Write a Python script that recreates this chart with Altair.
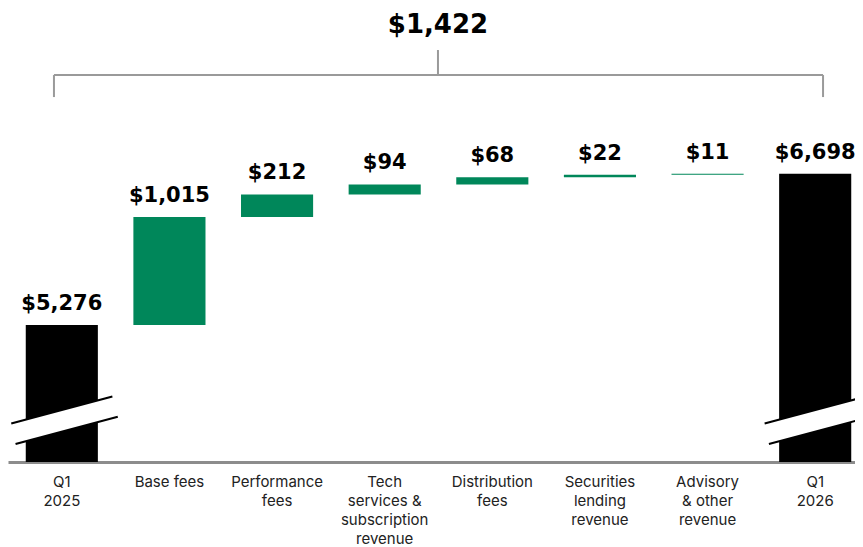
import altair as alt
import pandas as pd

# ---- data ----
categories = [
    "Q1|2025",
    "Base fees",
    "Performance|fees",
    "Tech|services &|subscription|revenue",
    "Distribution|fees",
    "Securities|lending|revenue",
    "Advisory|& other|revenue",
    "Q1|2026",
]
start_value = 5276
deltas = [1015, 212, 94, 68, 22, 11]
end_value = 6698

# ---- scale setup (broken axis) ----
Y_MIN, Y_MAX = 3988, 8255
W, H = 861, 454
GREEN = "#00875a"

rows = []
rows.append({"cat": categories[0], "lo": Y_MIN, "hi": start_value, "kind": "total", "val": start_value})
run = start_value
for c, d in zip(categories[1:-1], deltas):
    rows.append({"cat": c, "lo": run, "hi": run + d, "kind": "delta", "val": d})
    run += d
rows.append({"cat": categories[-1], "lo": Y_MIN, "hi": end_value, "kind": "total", "val": end_value})
df = pd.DataFrame(rows)
df["label"] = df["val"].map(lambda v: f"${v:,}")

total_change = end_value - start_value

yscale = alt.Scale(domain=[Y_MIN, Y_MAX], nice=False, zero=False)
band_scale = alt.Scale(paddingInner=0.33, paddingOuter=0.165)
band_axis = alt.Axis(
    title=None, labelAngle=0, labelExpr="split(datum.label, '|')",
    labelFont="Inter", labelFontSize=15, labelColor="#222222",
    labelLineHeight=19, labelPadding=12, ticks=False,
    domainColor="#8c8c8c", domainWidth=3, labelOverlap=False,
)
x_band = alt.X("cat:N", sort=categories, scale=band_scale, axis=band_axis)

bars = alt.Chart(df).mark_bar().encode(
    x=x_band,
    y=alt.Y("lo:Q", scale=yscale, axis=None),
    y2="hi:Q",
    color=alt.Color("kind:N", scale=alt.Scale(domain=["total", "delta"], range=["#000000", GREEN]), legend=None),
)

values = alt.Chart(df).mark_text(
    font="DejaVu Sans", fontSize=21, fontWeight="bold", baseline="alphabetic", dy=-15, color="#000000"
).encode(
    x=x_band,
    y=alt.Y("hi:Q", scale=yscale, axis=None),
    text="label:N",
)

xq = alt.Scale(domain=[0, 8], nice=False, zero=False)

# axis-break marks on the two total bars
slope = 270
area_rows, line_rows = [], []
for idx in [0, len(categories) - 1]:
    c = idx + 0.5
    for x in [c - 0.42, c + 0.42]:
        area_rows.append({"b": idx, "x": x, "ylo": 4273 + slope * (x - c), "yhi": 4477 + slope * (x - c)})
    for name, off, x0, x1 in [("u", 4477, c - 0.47, c + 0.47), ("l", 4273, c - 0.43, c + 0.52)]:
        for x in [x0, x1]:
            line_rows.append({"seg": f"{idx}{name}", "x": x, "y": off + slope * (x - c)})

break_fill = alt.Chart(pd.DataFrame(area_rows)).mark_area(color="white", clip=True).encode(
    x=alt.X("x:Q", scale=xq, axis=None),
    y=alt.Y("ylo:Q", scale=yscale, axis=None),
    y2="yhi:Q",
    detail="b:N",
)
break_lines = alt.Chart(pd.DataFrame(line_rows)).mark_line(color="black", strokeWidth=2, clip=True).encode(
    x=alt.X("x:Q", scale=xq, axis=None),
    y=alt.Y("y:Q", scale=yscale, axis=None),
    detail="seg:N",
)

# bracket
bx0, bx1, bxc = 0.427, 7.573, 3.995
by, by_end, by_top = 7625, 7418, 7860
bracket_df = pd.DataFrame([
    {"x": bx0, "x2": bx1, "y": by, "y2": by},
    {"x": bx0, "x2": bx0, "y": by_end, "y2": by},
    {"x": bx1, "x2": bx1, "y": by_end, "y2": by},
    {"x": bxc, "x2": bxc, "y": by, "y2": by_top},
])
bracket = alt.Chart(bracket_df).mark_rule(color="#9a9a9a", strokeWidth=2).encode(
    x=alt.X("x:Q", scale=xq, axis=None), x2="x2:Q",
    y=alt.Y("y:Q", scale=yscale, axis=None), y2="y2:Q",
)

top_df = pd.DataFrame([{"x": bxc, "y": 8095, "t": f"${total_change:,}"}])
top_text = alt.Chart(top_df).mark_text(
    font="DejaVu Sans", fontSize=26, fontWeight="bold", color="#000000", baseline="middle"
).encode(
    x=alt.X("x:Q", scale=xq, axis=None),
    y=alt.Y("y:Q", scale=yscale, axis=None),
    text="t:N",
)

main = alt.layer(bars, values)
deco = alt.layer(break_fill, break_lines, bracket, top_text)

chart = alt.layer(main, deco).resolve_scale(
    x="independent"
).properties(
    width=W, height=H,
    padding={"left": 0, "top": 0, "right": -14, "bottom": 0},
).configure_view(stroke=None)

chart.save("out.html", embed_options={"renderer": "svg", "actions": False})
